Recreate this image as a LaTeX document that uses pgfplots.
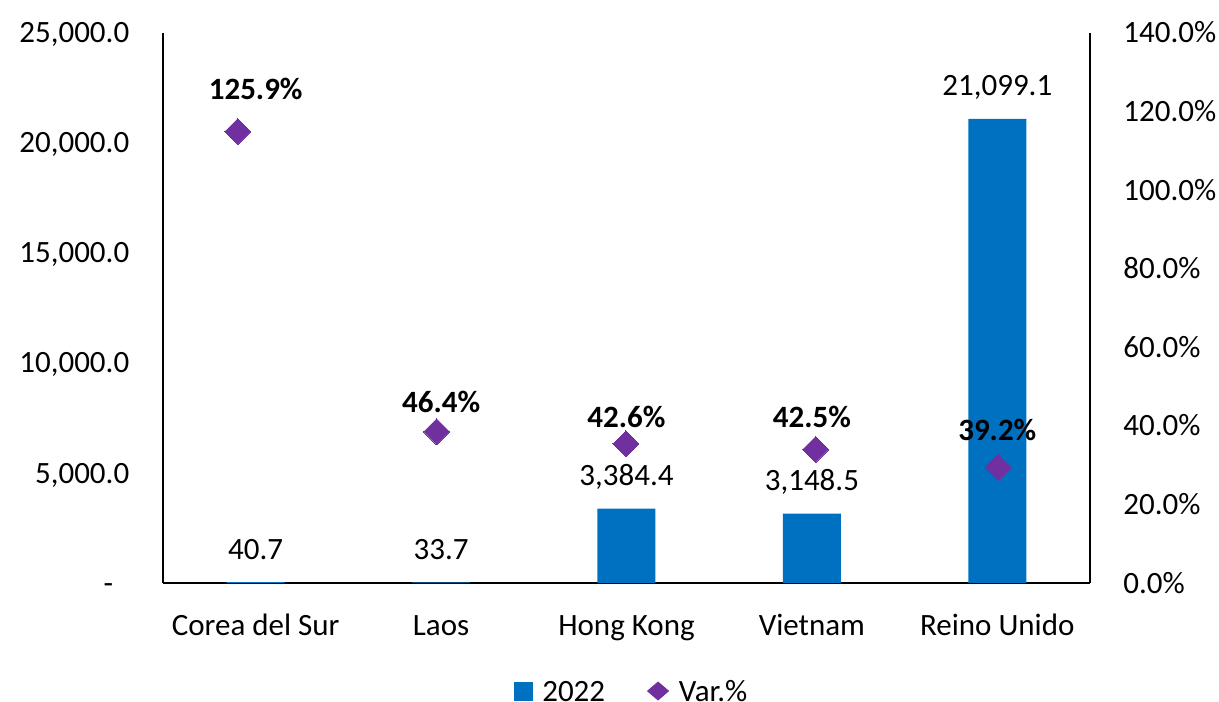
\documentclass[border=0pt]{standalone}
\usepackage{fontspec}
\setmainfont{Carlito}
\usepackage{pgfplots}
\pgfplotsset{compat=1.18}
\definecolor{barblue}{HTML}{0070C0}
\definecolor{varviolet}{HTML}{7030A0}
\pgfplotsset{/pgf/number format/assume math mode=true}
\begin{document}
\fontsize{15.5}{18.6}\selectfont
\begin{tikzpicture}[font=\fontsize{15.5}{18.6}\selectfont]
\begin{axis}[
  width=463.5pt, height=275pt, scale only axis,
  at={(0pt,0pt)}, anchor=south west,
  xmin=-0.5, xmax=4.5, ymin=0, ymax=25000,
  clip=false,
  scaled y ticks=false,
  axis x line*=bottom, axis y line*=left,
  axis line style={line width=1pt, -},
  xtick={0,1,2,3,4},
  xticklabels={Corea del Sur, Laos, Hong Kong, Vietnam, Reino Unido},
  ytick={0,5000,10000,15000,20000,25000},
  yticklabels={{-\hspace*{8pt}},{5,000.0},{10,000.0},{15,000.0},{20,000.0},{25,000.0}},
  major tick length=0pt,
  tick style={draw=none},
  xticklabel style={anchor=base, inner sep=0pt, yshift=-26pt},
  yticklabel style={anchor=east, inner sep=0pt, text height=10pt, text depth=0pt, xshift=-16.7pt},
  ybar, bar width=29pt,
  point meta=y,
  nodes near coords={\pgfmathprintnumber[fixed,zerofill,precision=1,1000 sep={,}]{\pgfplotspointmeta}},
  nodes near coords style={anchor=base, inner sep=0pt, yshift=11.5pt},
]
\addplot[fill=barblue, draw=none] coordinates {(0,40.7) (1,33.7) (2,3384.4) (3,3148.5) (4,21099.1)};
\end{axis}
\begin{axis}[
  width=463.5pt, height=275pt, scale only axis,
  at={(0pt,0pt)}, anchor=south west,
  xmin=-0.5, xmax=4.5, ymin=0, ymax=140,
  clip=false,
  scaled y ticks=false,
  axis x line=none, axis y line*=right,
  axis line style={line width=1pt, -},
  ytick={0,20,40,60,80,100,120,140},
  yticklabels={0.0\%,20.0\%,40.0\%,60.0\%,80.0\%,100.0\%,120.0\%,140.0\%},
  major tick length=0pt,
  tick style={draw=none},
  yticklabel style={anchor=west, inner sep=0pt, text height=10pt, text depth=0pt, xshift=16.5pt},
  legend columns=2,
  legend style={draw=none, fill=none, at={(0.3712,-0.1964)}, anchor=west,
    inner xsep=3pt, inner ysep=2pt, nodes={inner sep=2pt, text depth=0pt},
    /tikz/every even column/.append style={column sep=19pt},
    /tikz/every odd column/.append style={column sep=3pt}},
  legend cell align=left,
]
\addlegendimage{legend image code/.code={\fill[barblue] (0pt,-4.5pt) rectangle (9pt,4.5pt);}}
\addlegendentry{2022}
\addplot[only marks, color=varviolet, mark=square*, mark size=4.6pt,
  mark options={rotate=45, fill=varviolet, draw=varviolet, line width=0pt},
  legend image code/.code={\fill[varviolet] (0pt,0pt) -- (5.25pt,4.5pt) -- (10.5pt,0pt) -- (5.25pt,-4.5pt) -- cycle;}]
  coordinates {(-0.097,114.9) (0.976,38.5) (1.997,35.4) (3.020,34.0) (4.004,29.5)};
\addlegendentry{Var.\%}
\addplot[draw=none, mark=none, forget plot,
  point meta=y,
  nodes near coords={\textbf{\pgfmathprintnumber[fixed,zerofill,precision=1]{\pgfplotspointmeta}\%}},
  nodes near coords style={anchor=base, inner sep=0pt, yshift=-5.8pt, text=black}]
  coordinates {(0,125.9) (1,46.4) (2,42.6) (3,42.5) (4,39.2)};
\end{axis}
\pgfresetboundingbox
\path[use as bounding box] (-81.5pt,-59pt) rectangle (528pt,291.5pt);
\end{tikzpicture}
\end{document}
